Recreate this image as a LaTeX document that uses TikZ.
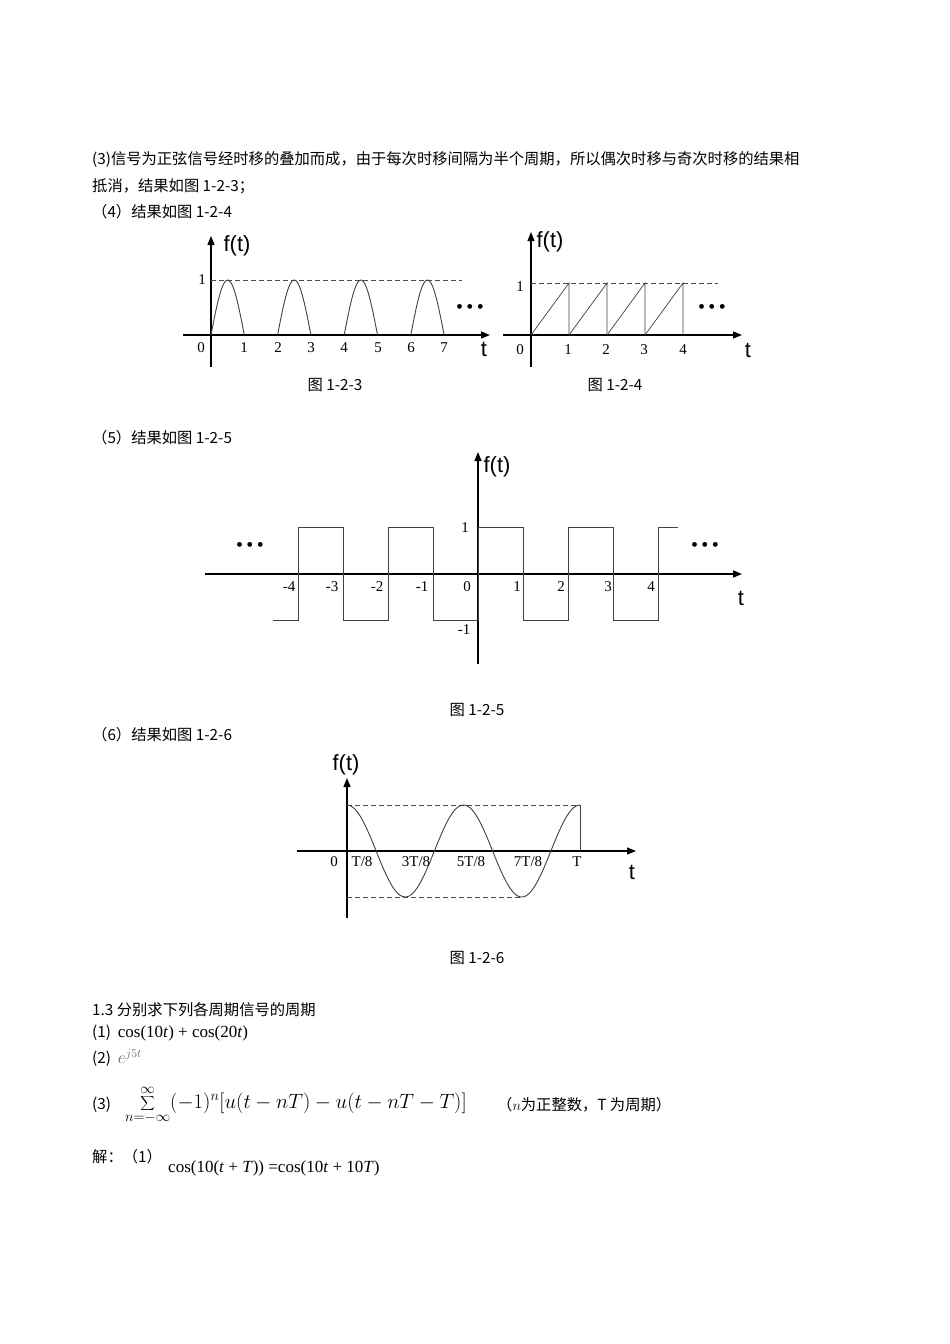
\documentclass[tikz,border=0pt]{standalone}
\usepackage{fontspec}
\setmainfont{Liberation Serif}
\newfontfamily\cjk{Noto Sans CJK SC}
\newfontfamily\mysans{Liberation Sans}
\usetikzlibrary{arrows.meta}
\begin{document}
\begin{tikzpicture}[x=1pt,y=-1pt,
  ax/.style={line width=1.3pt,-{Triangle[length=9pt,width=7pt]}},
  body/.style={anchor=west,inner sep=0pt,font=\fontsize{15.3}{17}\selectfont},
  lab/.style={font=\fontsize{15}{17}\selectfont,inner sep=0pt},
  ft/.style={font=\mysans\fontsize{22}{24}\selectfont,inner sep=0pt},
  dots/.style={font=\fontsize{20}{20}\selectfont,inner sep=0pt},
  sig/.style={line width=0.9pt,black!75},
  dsh/.style={dash pattern=on 5pt off 3pt,line width=0.7pt,black!70}]
\useasboundingbox (0,0) rectangle (950,1344);
% text
\node[body] (l1) at (92,160) {\cjk (3)信号为正弦信号经时移的叠加而成，由于每次时移间隔为半个周期，所以偶次时移与奇次时移的结果相};
\node[body] (l2) at (92,186) {\cjk 抵消，结果如图 1-2-3；};
\node[body] (l3) at (92,212) {\cjk （4）结果如图 1-2-4};
% fig 1-2-3
\draw[ax] (183,335) -- (490,335);
\draw[ax] (211,367) -- (211,236);
\draw[dsh] (211,280) -- (462,280);
\foreach \k in {0,2,4,6}{
  \draw[sig] plot[domain=0:1,samples=30] ({211+33.3*\k+33.3*\x},{335-55*sin(180*\x)});}
\node[ft] (f1) at (237,246) {f(t)};
\node[ft] (t1) at (484,349) {t};
\node[lab] (o1) at (202,280) {1};
\foreach \k/\xx in {0/201,1/244,2/278,3/311,4/344,5/378,6/411,7/444}{\node[lab] at (\xx,348) {\k};}
\node[dots] (d1) at (470,309) {\textbullet\,\textbullet\,\textbullet};
\node[body,anchor=center] (c1) at (335,385) {\cjk 图 1-2-3};
% fig 1-2-4
\draw[ax] (503,335) -- (742,335);
\draw[ax] (531,367) -- (531,232);
\draw[dsh] (531,283) -- (718,283);
\foreach \k in {0,1,2,3}{
  \draw[sig,line width=0.7pt] (531+38*\k,335) -- (569+38*\k,283) -- (569+38*\k,335);}
\node[ft] (f2) at (550,242) {f(t)};
\node[ft] (t2) at (748,350) {t};
\node[lab] (o2) at (520,287) {1};
\foreach \k/\xx in {0/520,1/568,2/606,3/644,4/683}{\node[lab] at (\xx,350) {\k};}
\node[dots] (d2) at (712,309) {\textbullet\,\textbullet\,\textbullet};
\node[body,anchor=center] (c2) at (615,385) {\cjk 图 1-2-4};
\node[body] (l4) at (92,438) {\cjk （5）结果如图 1-2-5};
% fig 1-2-5
\draw[ax] (205,574) -- (742,574);
\draw[ax] (478,664) -- (478,452);
\draw[sig] (273,620) -- (298,620) -- (298,527) -- (343,527) -- (343,620) -- (388,620) -- (388,527) -- (433,527) -- (433,620) -- (478,620) -- (478,527) -- (523,527) -- (523,620) -- (568,620) -- (568,527) -- (613,527) -- (613,620) -- (658,620) -- (658,527) -- (678,527);
\node[ft] (f3) at (497,467) {f(t)};
\node[ft] (t3) at (741,598) {t};
\node[lab] at (465,528) {1};
\node[lab] at (464,630) {-1};
\foreach \k/\xx in {-4/289,-3/332,-2/377,-1/422,0/467,1/517,2/561,3/608,4/651}{\node[lab] at (\xx,587) {\k};}
\node[dots] (d3) at (250,547) {\textbullet\,\textbullet\,\textbullet};
\node[dots] (d4) at (705,547) {\textbullet\,\textbullet\,\textbullet};
\node[body,anchor=center] (c3) at (477,710) {\cjk 图 1-2-5};
\node[body] (l5) at (92,735) {\cjk （6）结果如图 1-2-6};
% fig 1-2-6
\draw[ax] (297,851) -- (636,851);
\draw[ax] (347,918) -- (347,778);
\draw[dsh] (347,805) -- (580,805);
\draw[dsh] (347,897) -- (522,897);
\draw[sig] (580,805) -- (580,851);
\draw[sig] plot[domain=0:1,samples=120] ({347+233*\x},{851-46*cos(720*\x)});
\node[ft] (f4) at (346,765) {f(t)};
\node[ft] (t4) at (632,872) {t};
\node[lab] at (334,862) {0};
\foreach \s/\xx in {{T/8}/362,{3T/8}/416,{5T/8}/471,{7T/8}/528,T/577}{\node[lab] at (\xx,862) {\s};}
\node[body,anchor=center] (c4) at (477,958) {\cjk 图 1-2-6};
% section 1.3
\node[body] (s1) at (92,1010) {\cjk 1.3 分别求下列各周期信号的周期};
\node[body] (s2) at (92,1033) {\cjk (1)\ \ \rmfamily\fontsize{17}{19}\selectfont cos(10\textit{t}) + cos(20\textit{t})};
\node[body] (s3) at (92,1058) {\cjk (2)\ \ \rmfamily \textcolor{black!60}{\fontsize{17}{19}\selectfont$e^{j5t}$}};
\node[body] (s4) at (92,1105) {\cjk (3)};
\node[body] (s5) at (125,1105) {\fontsize{21}{24}\selectfont$\displaystyle\sum_{n=-\infty}^{\infty}(-1)^n\Bigl[u(t-nT)-u(t-nT-T)\Bigr]$};
\node[body] (s6) at (497,1105) {\cjk （\rmfamily$n$\cjk 为正整数，T 为周期）};
\node[body] (s7) at (92,1157) {\cjk 解：（1）};
\node[body] (s8) at (168,1168) {\fontsize{17}{19}\selectfont cos(10(\textit{t} + \textit{T})) =cos(10\textit{t} + 10\textit{T})};
\end{tikzpicture}
\end{document}
